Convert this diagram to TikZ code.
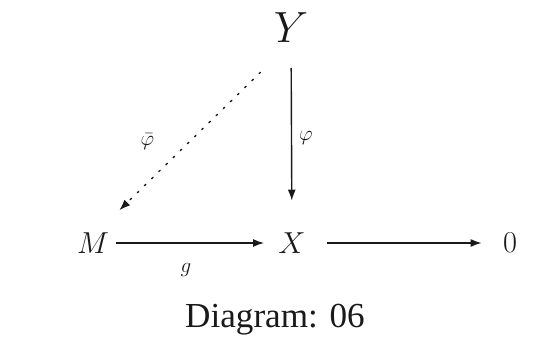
\documentclass[tikz,border=0pt]{standalone}
\usepackage{fontspec}
\setmainfont{Liberation Serif}
\usepackage{amsmath,amssymb}
\usetikzlibrary{arrows.meta,positioning}
\definecolor{inkblack}{HTML}{1A1A1A}

\begin{document}
\begin{tikzpicture}[
  x=0.02cm, y=-0.02cm,
  every node/.style={font=\fontsize{18}{21}\selectfont, text=inkblack, inner sep=2pt},
  obj/.style={inner sep=4pt},
  big/.style={obj, font=\fontsize{32}{36}\selectfont},
  lbl/.style={font=\fontsize{13}{15}\selectfont},
  arr/.style={-{Latex[length=2.2mm,width=1.6mm]}, line width=0.8pt, color=inkblack},
  dots/.style={arr, dash pattern=on 1.1pt off 4.6pt, line cap=round},
]
  \useasboundingbox (0,0) rectangle (548,341);

  \node[big] (Y) at (291,28) {$Y$};
  \node[obj] (M) at (93,243) {$M$};
  \node[obj] (X) at (292,243) {$X$};
  \node[obj] (zero) at (510,243) {$0$};
  \node (cap) at (275,320) {\fontsize{20}{24}\selectfont Diagram: 06};

  \draw[arr, shorten >=4pt] (M) -- node[lbl, pos=0.45, below=9pt] (g) {$g$} (X);
  \draw[arr, shorten <=8pt, shorten >=8pt] (X) -- (zero);
  \draw[arr, shorten <=10pt, shorten >=14pt] (Y) -- node[lbl, right=2pt] (phi) {$\varphi$} (X);
  \draw[dots] ([shift={(-6,22)}]Y.south west) -- node[lbl, left=18pt] (phibar) {$\bar{\varphi}$} ([shift={(3,-15)}]M.north east);
\end{tikzpicture}
\end{document}
